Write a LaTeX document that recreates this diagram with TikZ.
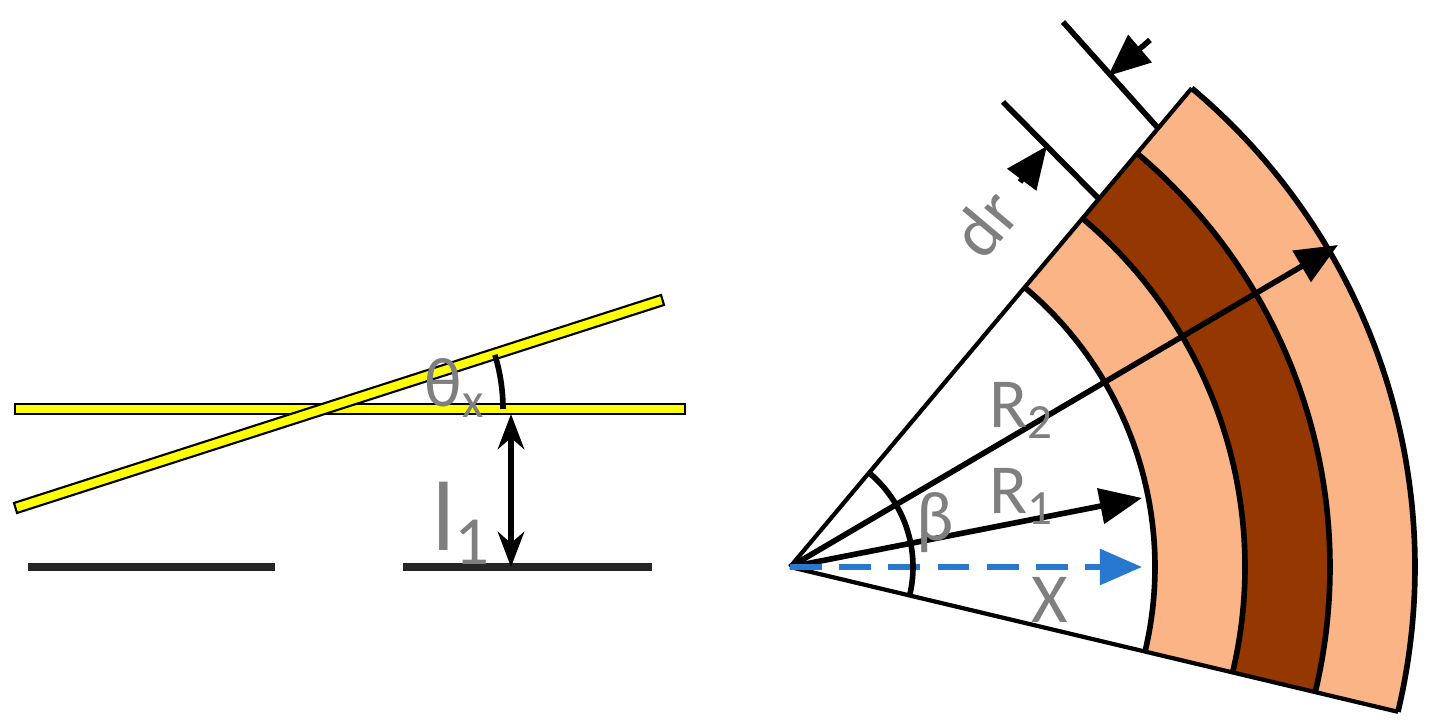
\documentclass[tikz,border=0pt]{standalone}
\usepackage{fontspec}
\setmainfont{Carlito}
\usetikzlibrary{arrows.meta}
\definecolor{ringlight}{HTML}{FBB486}
\definecolor{ringdark}{HTML}{943700}
\definecolor{glass}{HTML}{FFFF00}
\definecolor{labelgray}{HTML}{7F7F7F}
\definecolor{xblue}{HTML}{2878D0}
\begin{document}
\begin{tikzpicture}[
        x=0.01cm, y=0.01cm,
        lbl/.style={text=labelgray, font=\fontsize{20}{22}\selectfont, inner sep=0pt},
        bar/.style={draw=black, fill=glass, line width=0.6pt},
        dim/.style={line width=1.6pt, -{Triangle[length=12pt,width=10pt]}},
        ext/.style={line width=1.6pt}
    ]
    \useasboundingbox (0,0) rectangle (1430,728);

    % left: the two plates
    \draw[bar] (15,314) -- (685,314) -- (685,324) -- (15,324) -- cycle;
    \draw[bar] (17,215) -- (664,423) -- (661,433) -- (14,225) -- cycle;
    \fill[black!85] (28,157) rectangle (275,165);
    \fill[black!85] (403,157) rectangle (652,165);

    \coordinate (cross) at (318,319);
    \coordinate (top) at (511,314);
    \coordinate (bottom) at (511,161);
    \draw[line width=1.6pt, {Stealth[length=10pt]}-{Stealth[length=10pt]}] (top) -- (bottom);
    \node[lbl, font=\fontsize{28}{30}\selectfont] (l1) at (462,205) {l\textsubscript{1}};
    \draw[line width=1.6pt] (cross) ++(0:185) arc[start angle=0, end angle=17, radius=185];
    \node[lbl] (theta) at (455,340) {θ\textsubscript{x}};

    % right: the sector
    \coordinate (C) at (790,161);
    \foreach \r/\c in {625/ringlight, 540/ringdark, 455/ringlight, 365/white}
        \fill[\c] (C) -- ++(-13.4:\r) arc[start angle=-13.4, end angle=50, radius=\r] -- cycle;
    \foreach \r in {365, 455, 540, 625}
        \draw[line width=1.6pt] (C) ++(-13.4:\r) arc[start angle=-13.4, end angle=50, radius=\r];
    \draw[line width=1.2pt] (C) -- ++(50:625);
    \draw[line width=1.2pt] (C) -- ++(-13.4:625);

    \coordinate (r1tip) at (1142,230);
    \coordinate (r2tip) at (1338,483);
    \coordinate (xtip) at (1142,161);
    \draw[dim] (C) -- (r1tip);
    \draw[dim] (C) -- (r2tip);
    \draw[line width=1.6pt, xblue, dash pattern=on 9pt off 5pt, -{Triangle[length=12pt,width=10pt]}] (C) -- (xtip);
    \draw[line width=1.6pt] (C) ++(-13.4:123) arc[start angle=-13.4, end angle=50, radius=123];

    \node[lbl] (R2) at (1022,318) {R\textsubscript{2}};
    \node[lbl] (R1) at (1022,232) {R\textsubscript{1}};
    \node[lbl] (beta) at (935,205) {β};
    \node[lbl] (X) at (1050,128) {X};

    % dr dimension
    \coordinate (e1a) at (1003,626);
    \coordinate (e1b) at (1100,528);
    \coordinate (e2a) at (1063,706);
    \coordinate (e2b) at (1157,601);
    \draw[ext] (e1a) -- (e1b);
    \draw[ext] (e2a) -- (e2b);
    \coordinate (d1) at (1020,546);
    \coordinate (d1t) at (1047,582);
    \coordinate (d2) at (1150,688);
    \coordinate (d2t) at (1108,652);
    \draw[dim] (d1) -- (d1t);
    \draw[dim] (d2) -- (d2t);
    \node[lbl, rotate=50] (dr) at (985,505) {dr};
\end{tikzpicture}
\end{document}
